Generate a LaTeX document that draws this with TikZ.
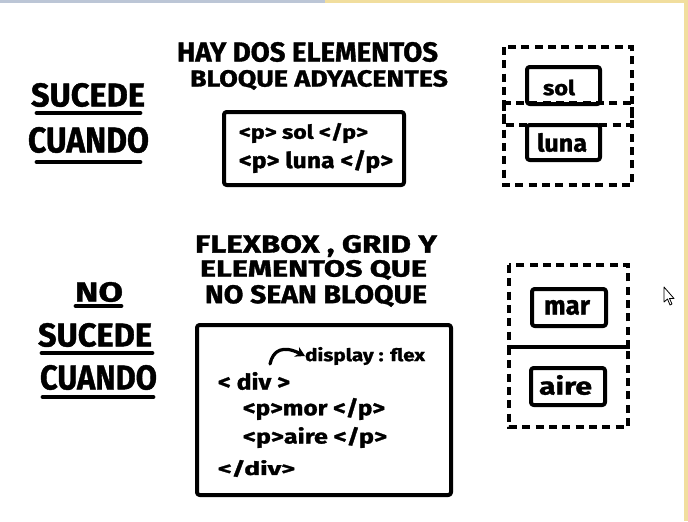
\documentclass[tikz,border=0pt]{standalone}
\usepackage{fontspec}
\setmainfont{Fira Sans}[BoldFeatures={FakeBold=1.2}]
\usetikzlibrary{arrows.meta}
\newdimen\pxu \pxu=0.75pt
\newcommand{\fitt}[3]{\resizebox*{#1\pxu}{#2\pxu}{#3}}
\definecolor{stripY}{HTML}{F1DE9E}
\definecolor{stripB}{HTML}{BCC6D6}
\begin{document}
\begin{tikzpicture}[x=0.75pt,y=-0.75pt,
  txt/.style={inner sep=0pt,outer sep=0pt,font=\bfseries},
  codebox/.style={draw,line width=3pt,line join=round,rounded corners=2pt},
  dbox/.style={draw,line width=2.3pt,dash pattern=on 6pt off 4pt},
  uline/.style={line width=3.6pt,line cap=round}]
\useasboundingbox (0,0) rectangle (688,521);
\fill[white] (0,0) rectangle (688,521);
\fill[stripB] (0,0) rectangle (325,2.5);
\fill[stripY] (325,0) rectangle (688,2.5);
\fill[stripY] (684,0) rectangle (688,521);

% ---------- top: SUCEDE CUANDO ----------
\node[txt] (suc1) at (88,95) {\fitt{114}{24}{SUCEDE}};
\draw[uline] (37,113) -- (140,113);
\node[txt] (cua1) at (88.5,140) {\fitt{121}{26}{CUANDO}};
\draw[uline] (37,162) -- (140,162);

\node[txt] (h1a) at (307.5,52) {\fitt{261}{20}{HAY DOS ELEMENTOS}};
\node[txt] (h1b) at (319,80) {\fitt{258}{20}{BLOQUE ADYACENTES}};

\draw[codebox] (224,112) rectangle (404,185);
\node[txt] (c1) at (303.5,133) {\fitt{129}{20}{<p> sol </p>}};
\node[txt] (c2) at (316,161.5) {\fitt{154}{23}{<p> luna </p>}};

\draw[dbox] (504,47) rectangle (632,125);
\draw[dbox] (504,103) rectangle (632,185);
\draw[codebox] (527,67) rectangle (600,104);
\node[txt] (sol) at (559,87.5) {\fitt{32}{16}{sol}};
\draw[codebox] (527,125) rectangle (600,160);
\node[txt] (luna) at (562,142.5) {\fitt{50}{19}{luna}};

% ---------- bottom: NO SUCEDE CUANDO ----------
\node[txt] (no) at (99,292) {\fitt{48}{20}{NO}};
\draw[uline] (76,306) -- (121,306);
\node[txt] (suc2) at (95,335) {\fitt{114}{24}{SUCEDE}};
\draw[uline] (42,353) -- (152,353);
\node[txt] (cua2) at (98.5,377.5) {\fitt{117}{25}{CUANDO}};
\draw[uline] (43,397) -- (153,397);

\node[txt] (h2a) at (316,246) {\fitt{242}{22}{FLEXBOX , GRID Y}};
\node[txt] (h2b) at (313.5,270) {\fitt{227}{20}{ELEMENTOS QUE}};
\node[txt] (h2c) at (316,296) {\fitt{222}{22}{NO SEAN BLOQUE}};

\draw[codebox] (197,325) rectangle (451,495);
\node[txt,anchor=west] (disp) at (305,356) {\fitt{120}{18}{display : flex}};
\node[txt,anchor=west] (div1) at (218,381) {\fitt{72}{18}{< div >}};
\node[txt,anchor=west] (pm) at (243,409) {\fitt{142}{22}{<p>mor </p>}};
\node[txt,anchor=west] (pa) at (243,437.5) {\fitt{144}{21}{<p>aire </p>}};
\node[txt,anchor=west] (div2) at (218,468.5) {\fitt{77}{17}{</div>}};
\coordinate (arrs) at (270,364);
\draw[line width=2.4pt,line cap=round,-{Stealth[length=7pt,width=8pt]}] (arrs) .. controls (273,350) and (283,345) .. (disp.west);

\draw[dbox] (509,265) rectangle (628,347);
\draw[dbox] (509,347) rectangle (628,427);
\draw[codebox] (532,289) rectangle (606,326);
\node[txt] (mar) at (567,307.5) {\fitt{46}{15}{mar}};
\draw[codebox] (531,368) rectangle (605,405);
\node[txt] (aire) at (565.5,385) {\fitt{53}{20}{aire}};

% mouse pointer
\draw[line width=0.6pt,fill=white,line join=round] (664,287) -- (664,302) -- (667.5,299) -- (670,305) -- (672,304) -- (669.5,298.5) -- (674,298.5) -- cycle;
\end{tikzpicture}
\end{document}
